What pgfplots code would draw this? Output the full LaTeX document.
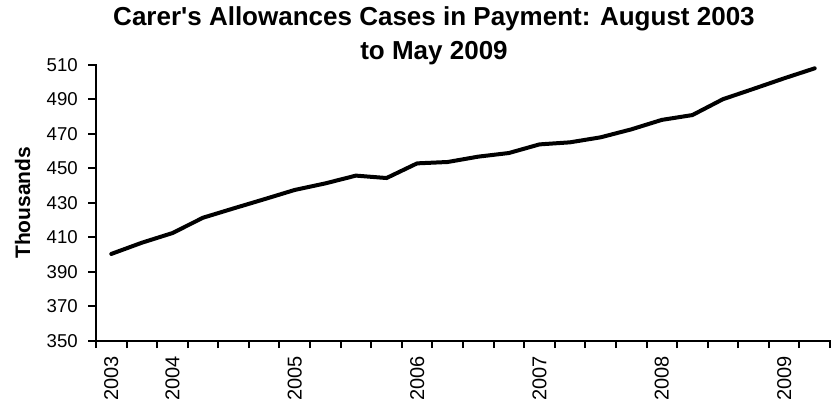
\documentclass[border=0pt]{standalone}
\usepackage{fontspec}
\setmainfont{Liberation Sans}
\usepackage{pgfplots}
\pgfplotsset{compat=1.18}
\begin{document}
\begin{tikzpicture}[x=1pt,y=1pt]
\path[use as bounding box] (0,0) rectangle (831,407);
\begin{axis}[
  at={(96pt,66.3pt)}, anchor=south west,
  scale only axis, width=734pt, height=276pt,
  clip=false,
  xmin=-0.5, xmax=23.5, ymin=350, ymax=510,
  axis x line*=bottom, axis y line*=left,
  axis line style={line width=2.2pt, line cap=rect},
  every tick/.style={line width=2pt, black},
  tick align=outside,
  major tick length=7.5pt,
  minor tick length=7.5pt,
  ytick={350,370,...,510},
  xtick={0,2,6,10,14,18,22},
  xticklabels={2003,2004,2005,2006,2007,2008,2009},
  major x tick style={draw=none},
  minor xtick={-0.5,0.5,...,23.5},
  /pgf/number format/assume math mode=true,
  yticklabel style={font=\fontsize{18.6}{20}\selectfont, anchor=east, inner sep=0pt, xshift=-10.6pt},
  xticklabel style={font=\fontsize{20}{22}\selectfont, rotate=90, anchor=east, inner sep=0pt, xshift=-8pt},
  title={Carer\textquotesingle s Allowances Cases in Payment: August 2003\\to May 2009},
  title style={font=\bfseries\fontsize{26}{34}\selectfont, align=center, inner sep=0pt,
    at={(axis description cs:0.4605,1.190)}, anchor=north},
  ylabel={Thousands},
  ylabel style={font=\bfseries\fontsize{21}{24}\selectfont, inner sep=0pt,
    at={(axis description cs:-0.0899,0.5)}, anchor=base},
]
\addplot[black, line width=4pt, line join=round, line cap=round] coordinates {
(0,400.3) (1,406.8) (2,412.4) (3,421.3) (4,426.7) (5,432) (6,437.4) (7,441.2)
(8,445.7) (9,444.3) (10,452.8) (11,453.6) (12,456.7) (13,458.8) (14,463.8) (15,465)
(16,467.9) (17,472.5) (18,478) (19,480.8) (20,490) (21,496) (22,502.1) (23,507.9)
};
\end{axis}
\end{tikzpicture}
\end{document}
